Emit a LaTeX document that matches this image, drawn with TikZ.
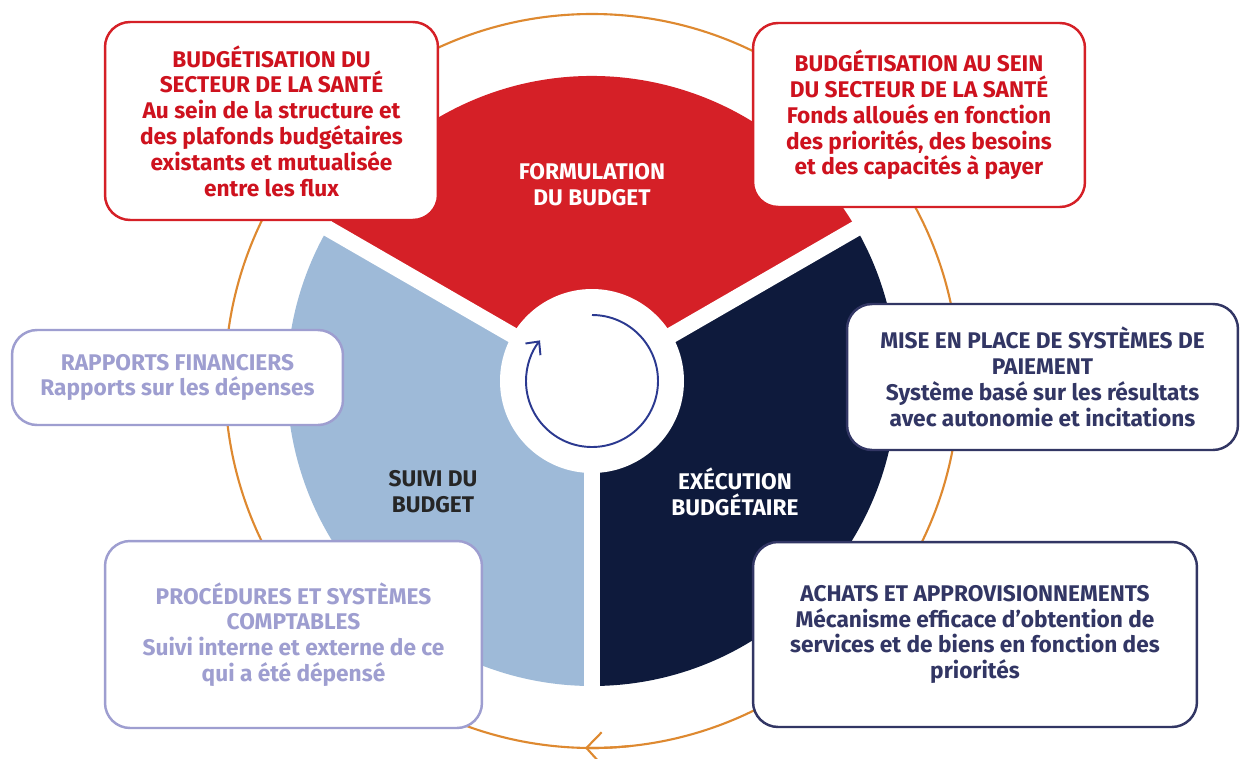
\documentclass[tikz,border=0pt]{standalone}
\usepackage{fontspec}
\setmainfont{Fira Sans}
\usetikzlibrary{arrows.meta}
\definecolor{formred}{RGB}{213,32,39}
\definecolor{redtext}{RGB}{206,18,30}
\definecolor{suiviblue}{RGB}{158,186,216}
\definecolor{execnavy}{RGB}{14,26,60}
\definecolor{navytext}{RGB}{50,54,100}
\definecolor{lavender}{RGB}{158,158,208}
\definecolor{cycleorange}{RGB}{222,137,48}
\definecolor{arrowblue}{RGB}{43,57,144}

\begin{document}
\begin{tikzpicture}[x=.02cm,y=.02cm,
    box/.style={draw, fill=white, rounded corners=.5cm, line width=1.4pt, align=center,
                font=\bfseries\fontsize{12.9}{14.7}\selectfont, inner sep=0pt},
    redbox/.style={box, draw=formred, text=redtext},
    navybox/.style={box, draw=navytext, text=navytext},
    lavbox/.style={box, draw=lavender, text=lavender},
    sector/.style={align=center, font=\bfseries\fontsize{12.9}{14.7}\selectfont}]
    \fill[white] (-592,-377) rectangle (648,381);
    \useasboundingbox (-592,-377) rectangle (648,381);
    \draw[cycleorange,line width=1.2pt] (0,0) circle (367);
    \draw[cycleorange,line width=1.2pt,-{Straight Barb[length=.3cm,width=.64cm]}] (-84:367) arc[start angle=-84,end angle=-91.1,radius=367];
    \fill[formred] (0,0) -- (30:305) arc[start angle=30,end angle=150,radius=305] -- cycle;
    \fill[execnavy] (0,0) -- (-90:305) arc[start angle=-90,end angle=30,radius=305] -- cycle;
    \fill[suiviblue] (0,0) -- (150:305) arc[start angle=150,end angle=270,radius=305] -- cycle;
    \foreach \a in {30,150,270}
        \draw[white,line width=.32cm] (0,0) -- (\a:320);
    \fill[white] (0,0) circle (92);
    \draw[arrowblue,line width=1.1pt,-{Straight Barb[length=.2cm,width=.38cm]}] (90:66) arc[start angle=90,end angle=-218,radius=66];
    \node[sector,text=white] (formulation) at (0,196) {FORMULATION\\DU BUDGET};
    \node[sector,text=white] (execution) at (143,-111) {EXÉCUTION\\BUDGÉTAIRE};
    \node[sector,text=black!85] (suivi) at (-159,-111) {SUIVI DU\\BUDGET};
    \node[redbox,minimum width=6.66cm,minimum height=3.96cm] (sante) at (-320.5,260)
        {BUDGÉTISATION DU\\SECTEUR DE LA SANTÉ\\Au sein de la structure et\\des plafonds budgétaires\\existants et mutualisée\\entre les flux};
    \node[redbox,minimum width=6.64cm,minimum height=3.68cm] (fonds) at (327,266)
        {BUDGÉTISATION AU SEIN\\DU SECTEUR DE LA SANTÉ\\Fonds alloués en fonction\\des priorités, des besoins\\et des capacités à payer};
    \node[navybox,minimum width=7.82cm,minimum height=2.92cm] (paiement) at (450.5,4)
        {MISE EN PLACE DE SYSTÈMES DE\\PAIEMENT\\Système basé sur les résultats\\avec autonomie et incitations};
    \node[navybox,minimum width=8.88cm,minimum height=3.7cm] (achats) at (383,-253.5)
        {ACHATS ET APPROVISIONNEMENTS\\Mécanisme efficace d’obtention de\\services et de biens en fonction des\\priorités};
    \node[lavbox,minimum width=6.62cm,minimum height=1.9cm] (rapports) at (-414.5,3.5)
        {RAPPORTS FINANCIERS\\Rapports sur les dépenses};
    \node[lavbox,minimum width=7.54cm,minimum height=3.74cm] (comptables) at (-298.5,-253.5)
        {PROCÉDURES ET SYSTÈMES\\COMPTABLES\\Suivi interne et externe de ce\\qui a été dépensé};
\end{tikzpicture}
\end{document}
